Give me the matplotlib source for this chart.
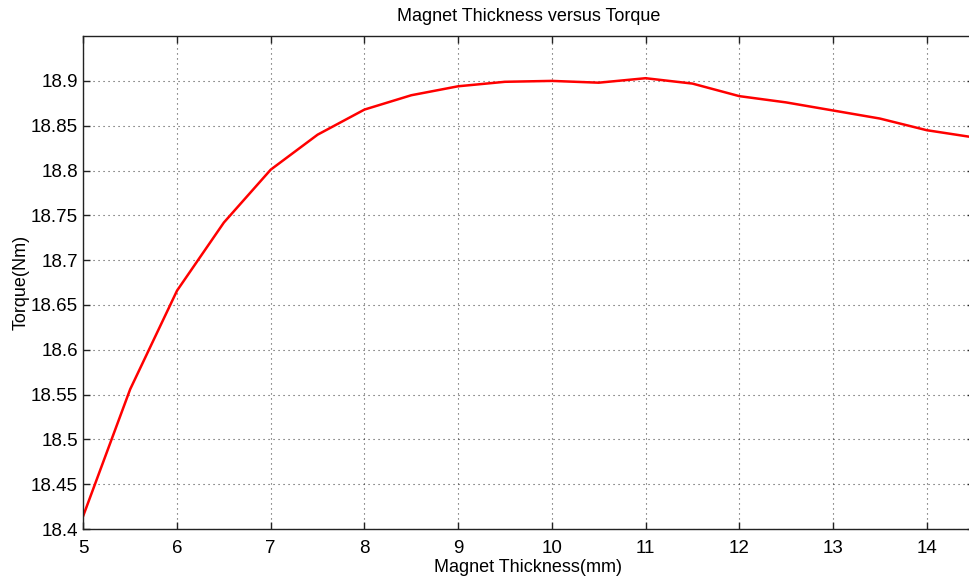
import numpy as np
import matplotlib.pyplot as plt

# data
thickness = [5.0, 5.5, 6.0, 6.5, 7.0, 7.5, 8.0, 8.5, 9.0, 9.5,
             10.0, 10.5, 11.0, 11.5, 12.0, 12.5, 13.0, 13.5, 14.0, 14.5]
torque = [18.415, 18.556, 18.666, 18.742, 18.801, 18.840, 18.868, 18.884,
          18.894, 18.899, 18.900, 18.898, 18.903, 18.897, 18.883, 18.876,
          18.867, 18.858, 18.845, 18.837]
y_ticks = [18.4, 18.45, 18.5, 18.55, 18.6, 18.65, 18.7, 18.75, 18.8, 18.85, 18.9]
y_labels = ['18.4', '18.45', '18.5', '18.55', '18.6', '18.65', '18.7',
            '18.75', '18.8', '18.85', '18.9']
x_ticks = [5, 6, 7, 8, 9, 10, 11, 12, 13, 14]

plt.rcParams['font.family'] = ['Liberation Sans', 'DejaVu Sans']

fig = plt.figure(figsize=(9.69, 5.82), dpi=100)
ax = fig.add_axes([0.086, 0.091, 0.9187, 0.847])

ax.plot(thickness, torque, color='#ff0000', linewidth=1.8)

ax.set_xlim(5, 14.5)
ax.set_ylim(18.4, 18.95)
ax.set_xticks(x_ticks)
ax.set_yticks(y_ticks)
ax.set_yticklabels(y_labels)

ax.grid(True, color='black', linestyle=(0, (1, 3.5)), linewidth=0.8, alpha=0.7)
ax.tick_params(direction='in', length=5, width=1, top=True, right=True,
               labelsize=13.5, colors='#222222', labelcolor='black')
ax.tick_params(axis='x', pad=8)
ax.tick_params(axis='y', pad=4)
for s in ax.spines.values():
    s.set_color('#222222')
    s.set_linewidth(1)

ax.set_xlabel('Magnet Thickness(mm)', fontsize=13, labelpad=1)
ax.set_ylabel('Torque(Nm)', fontsize=13, labelpad=1)
ax.set_title('Magnet Thickness versus Torque', fontsize=13, pad=11)

fig.savefig('out.png', dpi=100)
